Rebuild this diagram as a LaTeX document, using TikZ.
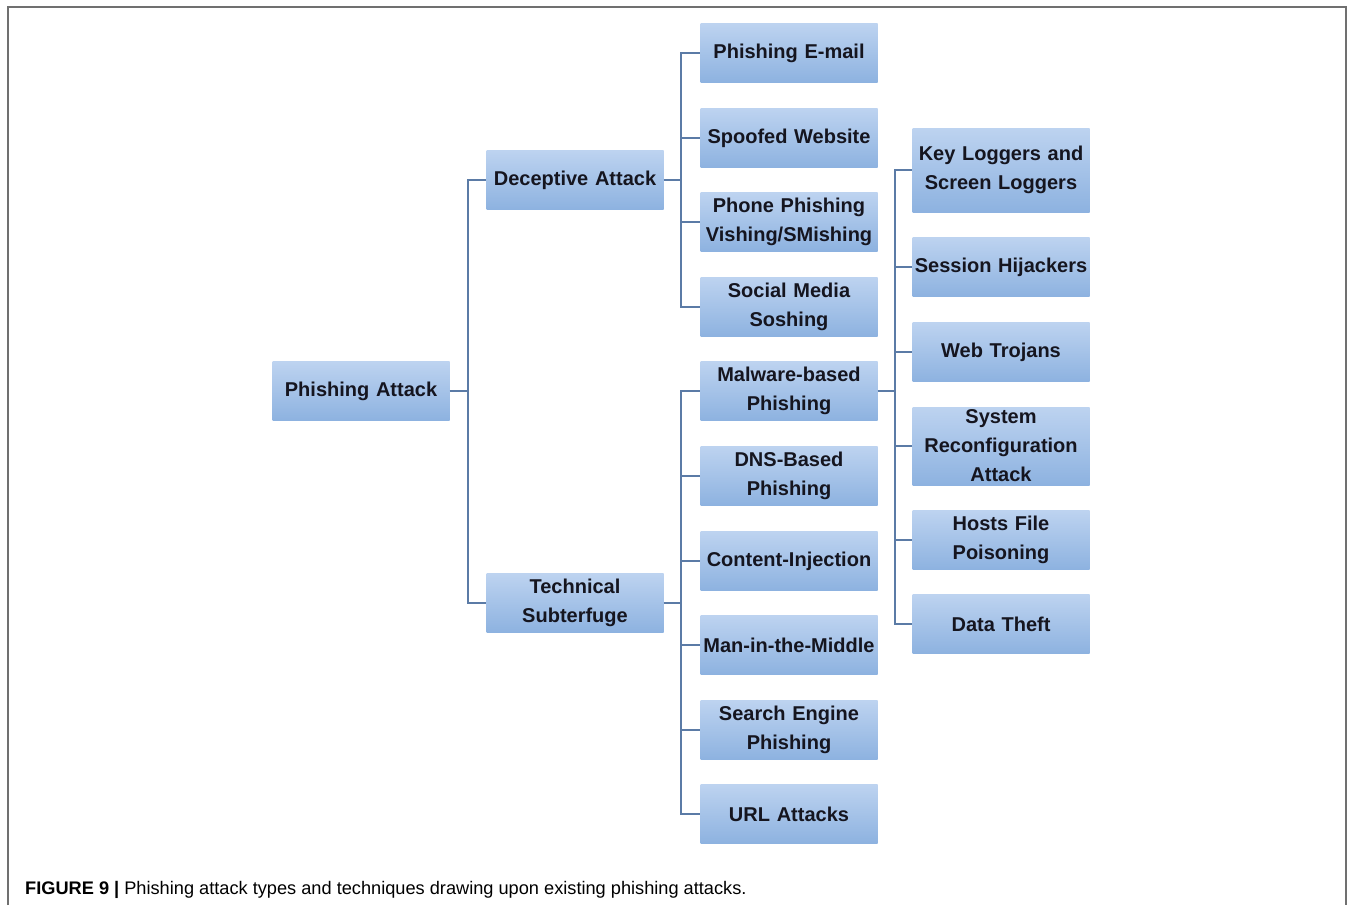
\documentclass[tikz,border=0pt]{standalone}
\usepackage{fontspec}
\setmainfont{Liberation Sans}
\definecolor{boxtop}{HTML}{BDD3F0}
\definecolor{boxbot}{HTML}{8DB2E0}
\definecolor{linec}{HTML}{5B7BA6}
\definecolor{txt}{HTML}{15151F}
\definecolor{frame}{HTML}{707070}
\tikzset{
  box/.style={shape=rectangle, top color=boxtop, bottom color=boxbot, draw=none,
    minimum width=177pt, minimum height=59pt, inner sep=0pt, text width=175pt,
    align=center, text=txt, font=\fontsize{20}{29}\selectfont\bfseries},
  tall/.style={minimum height=84pt},
  conn/.style={draw=linec, line width=2pt},
}
\begin{document}
\begin{tikzpicture}[x=1pt,y=-1pt]
\useasboundingbox (0,0) rectangle (1354,905);
\draw[frame, line width=1.5pt] (8,905) -- (8,7) -- (1346,7) -- (1346,905);
% level 1
\node[box] (pa) at (361,391) {Phishing Attack};
% level 2
\node[box] (da) at (575,180) {Deceptive Attack};
\node[box] (ts) at (575,603) {Technical\\Subterfuge};
% level 3 (deceptive)
\node[box] (pe) at (789,53) {Phishing E-mail};
\node[box] (sw) at (789,138) {Spoofed Website};
\node[box] (pp) at (789,222) {Phone Phishing\\Vishing/SMishing};
\node[box] (sm) at (789,307) {Social Media\\Soshing};
% level 3 (technical)
\node[box] (mb) at (789,391) {Malware-based\\Phishing};
\node[box] (dns) at (789,476) {DNS-Based\\Phishing};
\node[box] (ci) at (789,561) {Content-Injection};
\node[box] (mm) at (789,645) {Man-in-the-Middle};
\node[box] (se) at (789,730) {Search Engine\\Phishing};
\node[box] (url) at (789,814) {URL Attacks};
% level 4 (malware)
\node[box,tall] (kl) at (1001,170) {Key Loggers and\\Screen Loggers};
\node[box] (sh) at (1001,267) {Session Hijackers};
\node[box] (wt) at (1001,352) {Web Trojans};
\node[box,tall,minimum height=78pt] (sr) at (1001,446) {System\\Reconfiguration\\Attack};
\node[box] (hf) at (1001,540) {Hosts File\\Poisoning};
\node[box] (dt) at (1001,624) {Data Theft};
% connectors
\coordinate (j1) at (468,391);
\coordinate (j2) at (681,180);
\coordinate (j3) at (681,603);
\coordinate (j4) at (895,391);
\draw[conn] (pa.east) -- (j1);
\foreach \n in {da,ts} \draw[conn] (j1) |- (\n.west);
\draw[conn] (da.east) -- (j2);
\foreach \n in {pe,sw,pp,sm} \draw[conn] (j2) |- (\n.west);
\draw[conn] (ts.east) -- (j3);
\foreach \n in {mb,dns,ci,mm,se,url} \draw[conn] (j3) |- (\n.west);
\draw[conn] (mb.east) -- (j4);
\foreach \n in {kl,sh,wt,sr,hf,dt} \draw[conn] (j4) |- (\n.west);
% caption
\node[anchor=west, inner sep=0pt, font=\fontsize{18.2}{20}\selectfont] (cap) at (25,890)
  {\textbf{FIGURE 9 |} Phishing attack types and techniques drawing upon existing phishing attacks.};
\end{tikzpicture}
\end{document}
